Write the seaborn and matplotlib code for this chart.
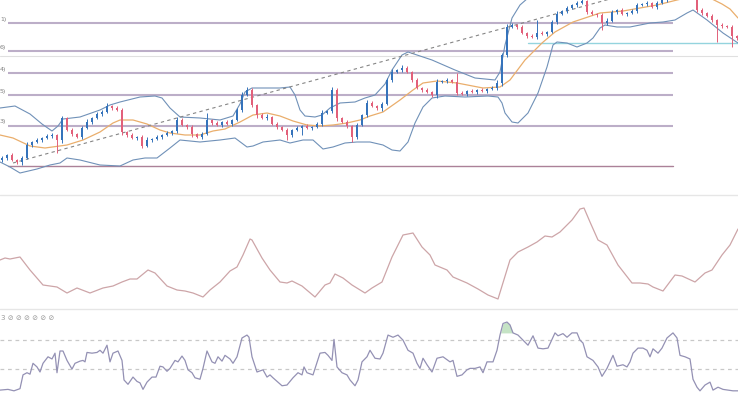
import numpy as np
import pandas as pd
import matplotlib
matplotlib.use("Agg")
import matplotlib.pyplot as plt
import seaborn as sns
from matplotlib.lines import Line2D

# ---------------- data ----------------
# candle closes (price units), one bar every 5 time units
closes = [42, 45, 40, 38, 42, 55, 58, 60, 62, 64,
          65, 60, 82, 70, 66, 63, 72, 78, 82, 86,
          88, 94, 92, 90, 68, 65, 62, 63, 54, 60,
          61, 63, 65, 67, 69, 80, 75, 73, 66, 63,
          66, 80, 77, 75, 78, 76, 80, 90, 105, 110,
          95, 85, 82, 83, 76, 73, 70, 65, 70, 72,
          74, 72, 73, 76, 87, 89, 110, 82, 78, 74,
          63, 75, 85, 97, 94, 92, 96, 120, 128, 130,
          132, 128, 120, 112, 110, 108, 105, 118, 119, 120,
          118, 107, 106, 109, 108, 110, 109, 111, 112, 117,
          145, 173, 175, 173, 167, 164, 163, 167, 166, 168,
          178, 186, 189, 192, 195, 197, 199, 188, 186, 185,
          177, 179, 188, 190, 186, 187, 189, 195, 196, 197,
          193, 197, 200, 203, 206, 208, 207, 205, 203, 190,
          187, 184, 180, 175, 174, 173, 164, 162]
first_open = 40
wick_hi = [2, 1, 2, 1, 2, 3, 1, 2, 1, 2, 2, 1, 2, 1, 2, 1, 2, 3, 1, 2,
           2, 3, 1, 2, 2, 1, 2, 1, 2, 3, 1, 2, 1, 2, 1, 3, 2, 1, 2, 1,
           2, 7, 1, 2, 1, 2, 1, 2, 3, 3, 2, 1, 2, 3, 1, 2, 1, 2, 1, 2,
           1, 2, 1, 2, 3, 1, 3, 2, 1, 2, 1, 2, 1, 3, 2, 1, 2, 2, 3, 1,
           3, 2, 1, 2, 1, 2, 1, 3, 1, 2, 1, 9, 2, 1, 2, 1, 2, 1, 2, 3,
           2, 3, 2, 1, 2, 1, 2, 13, 2, 1, 2, 3, 1, 2, 1, 2, 2, 1, 2, 1,
           2, 3, 2, 1, 2, 1, 2, 2, 1, 2, 1, 2, 1, 2, 2, 1, 2, 1, 2, 3,
           2, 1, 2, 1, 2, 1, 2, 1]
wick_lo = [2, 2, 1, 2, 3, 1, 2, 1, 2, 1, 2, 13, 3, 1, 2, 1, 2, 1, 2, 1,
           2, 1, 2, 1, 3, 2, 1, 2, 2, 1, 2, 1, 2, 1, 2, 2, 1, 2, 3, 1,
           2, 1, 2, 1, 2, 1, 2, 1, 2, 1, 2, 3, 1, 2, 1, 2, 1, 5, 2, 1,
           7, 1, 2, 1, 2, 1, 2, 3, 1, 2, 5, 2, 1, 2, 1, 2, 3, 1, 2, 1,
           2, 1, 2, 1, 2, 1, 2, 3, 1, 2, 1, 2, 1, 2, 1, 2, 1, 2, 1, 2,
           3, 2, 1, 2, 1, 2, 1, 2, 1, 2, 1, 2, 1, 2, 1, 2, 1, 2, 1, 2,
           7, 2, 1, 2, 1, 2, 1, 2, 1, 2, 1, 2, 1, 2, 1, 2, 1, 2, 1, 2,
           2, 1, 2, 17, 2, 1, 11, 2]

# Bollinger bands and moving average (time, price)
upper_t = [0, 15, 30, 42, 52, 58, 63, 80, 100, 110, 120, 140, 155, 162, 170, 180, 200, 220, 233, 240,
           245, 252, 280, 290, 295, 300, 305, 315, 322, 330, 340, 355, 365, 375, 385, 392, 402, 408, 432, 455,
           475, 495, 500, 505, 512, 520, 528, 540, 560, 600, 640, 660, 680, 700, 738]
upper_v = [92, 94, 86, 76, 69, 74, 81, 83, 90, 95, 98, 103, 104, 102, 92, 83, 82, 80, 84, 96,
           108, 112, 112, 113, 105, 90, 84, 83, 85, 92, 97, 98, 102, 105, 116, 130, 145, 148, 140, 130,
           122, 120, 128, 155, 182, 195, 202, 206, 205, 203, 202, 204, 212, 216, 214]
mid_t = [0, 13, 30, 45, 67, 83, 100, 113, 120, 133, 147, 160, 170, 185, 200, 213, 225, 240, 253, 267,
         280, 293, 307, 320, 333, 347, 360, 370, 383, 400, 413, 423, 437, 457, 483, 500, 510, 525, 542, 555,
         573, 600, 623, 640, 657, 677, 690, 710, 722, 730, 738]
mid_v = [65, 62, 54, 52, 55, 60, 68, 77, 80, 80, 76, 70, 67, 65, 65, 69, 71, 78, 85, 87,
         84, 79, 75, 74, 75, 77, 80, 84, 88, 100, 110, 117, 119, 117, 112, 113, 120, 140, 157, 168,
         178, 187, 189, 192, 195, 200, 203, 202, 196, 191, 182]
lower_t = [0, 10, 20, 37, 50, 60, 67, 80, 100, 120, 133, 145, 157, 170, 180, 200, 220, 235, 247, 253,
           263, 280, 290, 303, 313, 323, 333, 345, 357, 370, 383, 392, 400, 408, 415, 423, 432, 445, 465, 488,
           498, 502, 505, 512, 518, 528, 538, 547, 553, 557, 567, 577, 587, 593, 600, 605, 617, 630, 650, 663,
           675, 687, 693, 707, 723, 738]
lower_v = [38, 33, 27, 31, 35, 37, 42, 40, 35, 34, 40, 42, 42, 52, 60, 58, 60, 62, 53, 54,
           58, 60, 57, 60, 60, 51, 53, 57, 58, 58, 55, 50, 49, 58, 77, 93, 102, 104, 103, 104,
           103, 97, 87, 78, 77, 87, 107, 133, 155, 158, 157, 153, 157, 162, 172, 175, 173, 173, 177, 178,
           180, 187, 190, 180, 167, 157]

# retracement levels and drawings
fib_levels = [177, 149, 127, 105, 74, 34]
fib_labels = ["1)", "6)", "4)", "5)", "3)"]
fib_start, fib_end = 8, 673
ref_level = 144
support_level, support_start = 157, 528
trend_t = [13, 610]
trend_v = [37, 201]

# middle panel indicator
atr_t = [0, 5, 10, 20, 30, 43, 57, 67, 77, 90, 103, 113, 122, 130, 137, 148, 155, 167, 177, 185,
         193, 203, 210, 220, 230, 237, 243, 250, 252, 262, 270, 280, 287, 292, 302, 315, 325, 330, 335, 343,
         352, 365, 372, 382, 392, 403, 413, 422, 430, 435, 447, 453, 467, 478, 488, 498, 510, 518, 528, 537,
         545, 552, 560, 572, 580, 584, 590, 598, 607, 618, 632, 640, 648, 653, 663, 675, 682, 695, 705, 712,
         722, 730, 738]
atr_v = [49, 51, 50, 52, 39, 24, 22, 16, 21, 16, 21, 23, 27, 30, 30, 39, 36, 23, 19, 18,
         16, 12, 19, 27, 38, 42, 54, 70, 69, 51, 39, 27, 26, 28, 23, 12, 24, 26, 35, 31,
         24, 16, 21, 27, 52, 74, 76, 62, 54, 44, 39, 32, 26, 20, 14, 10, 49, 57, 62, 67,
         73, 72, 77, 89, 100, 101, 87, 69, 64, 44, 26, 26, 25, 22, 18, 34, 33, 27, 36, 39,
         54, 64, 80]

# RSI panel
rsi_t = [0, 8, 14, 20, 23, 27, 30, 33, 37, 40, 43, 48, 52, 55, 57, 60, 63, 67, 72, 75,
         80, 83, 85, 87, 92, 97, 100, 103, 107, 110, 113, 118, 122, 124, 128, 133, 137, 140, 143, 147,
         152, 156, 160, 163, 167, 170, 175, 178, 182, 185, 188, 192, 195, 200, 203, 207, 212, 215, 218, 222,
         225, 230, 233, 237, 242, 247, 249, 252, 257, 263, 267, 270, 273, 282, 287, 293, 298, 302, 304, 307,
         313, 320, 325, 328, 332, 334, 337, 342, 347, 350, 355, 358, 362, 367, 370, 375, 380, 383, 388, 393,
         398, 403, 408, 413, 417, 420, 423, 427, 432, 437, 443, 450, 453, 457, 462, 467, 470, 475, 480, 483,
         487, 493, 497, 500, 503, 507, 510, 513, 518, 523, 528, 533, 538, 543, 548, 555, 558, 563, 567, 572,
         577, 580, 583, 587, 593, 598, 602, 607, 613, 617, 623, 627, 630, 633, 638, 643, 647, 650, 653, 658,
         662, 667, 673, 677, 680, 685, 690, 693, 697, 700, 705, 710, 713, 718, 723, 728, 733, 738]
rsi_v = [1, 2, 0, 3, 22, 25, 23, 38, 33, 26, 38, 47, 44, 52, 25, 55, 55, 42, 30, 38,
         41, 42, 40, 53, 52, 53, 56, 52, 63, 40, 52, 55, 42, 15, 9, 19, 13, 11, 2, 12,
         19, 19, 34, 33, 27, 31, 42, 40, 48, 42, 29, 25, 18, 16, 31, 55, 40, 38, 47, 41,
         49, 44, 38, 47, 73, 77, 74, 47, 26, 29, 19, 22, 18, 7, 8, 18, 25, 22, 33, 25,
         22, 52, 53, 49, 42, 71, 33, 25, 22, 15, 7, 15, 40, 47, 56, 45, 44, 52, 77, 74,
         77, 70, 56, 52, 38, 31, 45, 36, 26, 45, 47, 40, 42, 20, 22, 29, 31, 31, 33, 25,
         40, 40, 56, 77, 93, 95, 91, 80, 77, 70, 63, 76, 59, 58, 59, 80, 76, 79, 74, 80,
         80, 70, 66, 47, 42, 33, 20, 31, 49, 34, 36, 33, 40, 52, 59, 59, 56, 47, 58, 52,
         59, 73, 80, 73, 49, 47, 44, 16, 5, 0, 8, 12, 1, 5, 2, 1, 0, 0]
rsi_upper, rsi_lower, rsi_fill_level = 70, 30, 80
panel3_label = "3 \u2298 \u2298 \u2298 \u2298 \u2298 \u2298"

# ---------------- style ----------------
sns.set_theme(style="white")
plt.rcParams["font.family"] = ["DejaVu Sans"]

BLUE = "#3573bb"
RED = "#e2607a"
BAND = "#7091b8"
ORANGE = "#eaae6c"
FIB = "#bcaec8"
FIB_LOW = "#ab8198"

fig = plt.figure(figsize=(7.38, 3.93), dpi=100)
fig.patch.set_facecolor("white")
H = 393.0
ax1 = fig.add_axes([0, (H - 195) / H, 1, 195 / H])
ax2 = fig.add_axes([0, (H - 309) / H, 1, 114 / H])
ax3 = fig.add_axes([0, 0, 1, 84 / H])

# ---------------- main panel ----------------
n = min(len(closes), len(wick_hi), len(wick_lo))
c = np.array(closes[:n], dtype=float)
o = np.r_[first_open, c[:-1]]
t = 2 + 5 * np.arange(n)
top = np.maximum(o, c)
bot = np.minimum(o, c)
hi = top + np.array(wick_hi[:n])
lo = bot - np.array(wick_lo[:n])
cols = np.where(c >= o, BLUE, RED)

for lvl in fib_levels[:-1]:
    ax1.plot([fib_start, fib_end], [lvl, lvl], color=FIB, lw=1.5, zorder=1, solid_capstyle="butt")
ax1.plot([fib_start, fib_end], [fib_levels[-1]] * 2, color=FIB_LOW, lw=1.0, zorder=1)
ax1.axhline(ref_level, color="#e0e0e0", lw=0.8, zorder=1)
ax1.plot([support_start, 738], [support_level] * 2, color="#94d4de", lw=1.0, zorder=2)
for lvl, lab in zip(fib_levels, fib_labels):
    ax1.text(0, lvl + 4, lab, fontsize=4.5, color="#808080", va="center", ha="left")

df_bands = pd.concat([
    pd.DataFrame({"t": upper_t, "v": upper_v, "s": "upper"}),
    pd.DataFrame({"t": lower_t, "v": lower_v, "s": "lower"}),
])
sns.lineplot(data=df_bands, x="t", y="v", units="s", estimator=None, sort=False,
             color=BAND, lw=0.8, ax=ax1, zorder=3)
sns.lineplot(x=mid_t, y=mid_v, estimator=None, sort=False, color=ORANGE, lw=0.9, ax=ax1, zorder=3)
ax1.plot(trend_t, trend_v, color="#858585", lw=0.8, ls=(0, (3, 3)), zorder=3)

ax1.vlines(t, lo, hi, colors=cols, lw=0.7, zorder=4)
ax1.bar(t, np.maximum(top - bot, 0.7), bottom=bot, width=2.8, color=cols, linewidth=0, zorder=5)
ax1.set_ylim(5, 200)

# ---------------- middle panel ----------------
sns.lineplot(x=atr_t, y=atr_v, estimator=None, sort=False, color="#cda5a8", lw=0.9, ax=ax2)
ax2.set_ylim(0, 114)

# ---------------- RSI panel ----------------
rt = np.array(rsi_t, dtype=float)
rv = np.array(rsi_v, dtype=float)
ax3.axhline(rsi_upper, color="#c8c8c8", lw=0.9, ls=(0, (3, 3)))
ax3.axhline(rsi_lower, color="#c8c8c8", lw=0.9, ls=(0, (3, 3)))
ax3.fill_between(rt, rv, rsi_fill_level, where=rv > rsi_fill_level, interpolate=True,
                 color="#bfe0bf", alpha=0.9, linewidth=0)
sns.lineplot(x=rt, y=rv, estimator=None, sort=False, color="#9491b4", lw=0.9, ax=ax3)
ax3.text(1, 100, panel3_label, fontsize=5, color="#9a9a9a", va="center", ha="left")
ax3.set_ylim(-3, 113)

for ax in (ax1, ax2, ax3):
    ax.set_xlim(0, 738)
    ax.axis("off")

for yy in (195, 309):
    fig.add_artist(Line2D([0, 1], [(H - yy) / H] * 2, transform=fig.transFigure,
                          color="#e6e6e6", lw=1.0))

fig.savefig("out.png", dpi=100, facecolor="white")
